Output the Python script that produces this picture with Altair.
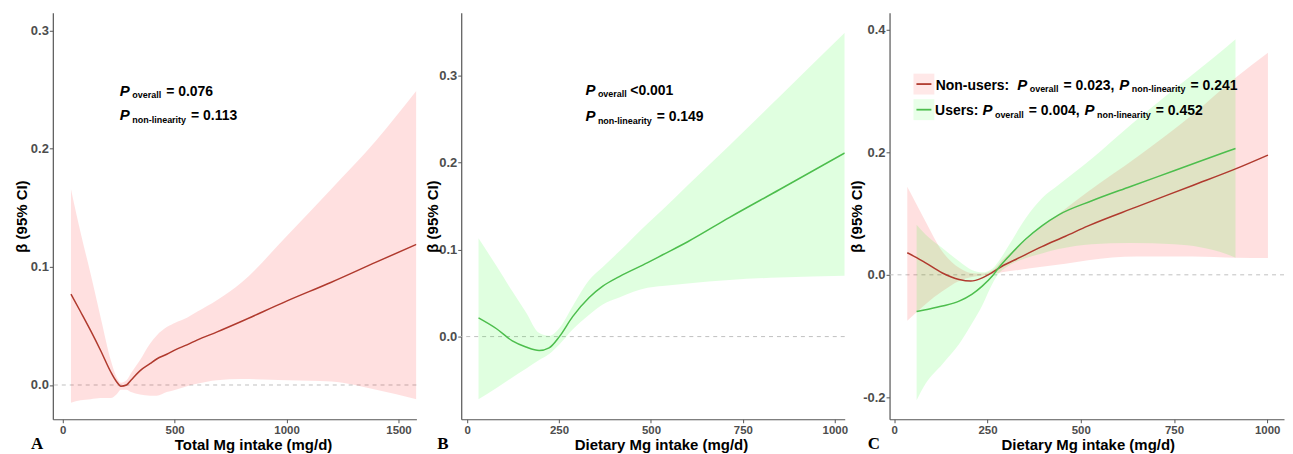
import altair as alt
import pandas as pd

FONT = "Liberation Sans"
SERIF = "Liberation Serif"

# ---------------- data ----------------
# Panel A: Total Mg intake
A_x   = [37, 80, 125, 170, 215, 240, 260, 285, 305, 345, 390, 420, 465, 505, 555, 600, 690, 800, 1000, 1200, 1400, 1580]
A_est = [0.077, 0.062, 0.046, 0.029, 0.011, 0.003, -0.001, 0.000, 0.004, 0.012, 0.018, 0.022, 0.026, 0.030, 0.034, 0.038, 0.045, 0.054, 0.071, 0.087, 0.104, 0.119]
A_lo  = [-0.015, -0.013, -0.012, -0.011, -0.011, -0.008, -0.004, -0.004, -0.006, -0.008, -0.009, -0.009, -0.006, -0.004, -0.001, 0.001, 0.004, 0.005, 0.004, 0.003, -0.004, -0.012]
A_hi  = [0.166, 0.129, 0.094, 0.057, 0.021, 0.007, 0.002, 0.004, 0.010, 0.021, 0.035, 0.042, 0.049, 0.053, 0.057, 0.062, 0.072, 0.087, 0.126, 0.166, 0.207, 0.249]

# Panel B: Dietary Mg intake
B_x   = [31, 80, 123, 160, 196, 223, 251, 287, 332, 369, 414, 491, 532, 600, 714, 850, 1027]
B_est = [0.0215, 0.009, -0.005, -0.012, -0.016, -0.013, 0.000, 0.023, 0.045, 0.058, 0.069, 0.085, 0.094, 0.109, 0.137, 0.169, 0.211]
B_lo  = [-0.072, -0.059, -0.047, -0.037, -0.027, -0.020, -0.009, 0.008, 0.025, 0.037, 0.045, 0.056, 0.058, 0.061, 0.065, 0.068, 0.070]
B_hi  = [0.113, 0.081, 0.052, 0.028, 0.004, 0.001, 0.010, 0.035, 0.065, 0.080, 0.098, 0.130, 0.146, 0.174, 0.220, 0.276, 0.349]

# Panel C: Non-users
CN_x   = [35, 60, 84, 129, 174, 205, 236, 263, 289, 334, 396, 459, 520, 650, 800, 915, 1002]
CN_est = [0.036, 0.028, 0.0195, 0.003, -0.0076, -0.0103, -0.005, 0.004, 0.014, 0.0276, 0.046, 0.063, 0.080, 0.111, 0.146, 0.173, 0.1956]
CN_lo  = [-0.075, -0.061, -0.048, -0.027, -0.010, -0.004, -0.001, 0.001, 0.004, 0.008, 0.013, 0.018, 0.024, 0.030, 0.030, 0.028, 0.0276]
CN_hi  = [0.144, 0.115, 0.087, 0.038, 0.0114, 0.003, 0.002, 0.007, 0.024, 0.047, 0.079, 0.108, 0.136, 0.192, 0.262, 0.322, 0.363]

# Panel C: Users
CU_x   = [60, 84, 129, 174, 208, 236, 263, 280, 307, 352, 396, 441, 530, 632, 750, 890, 915]
CU_est = [-0.060, -0.057, -0.051, -0.043, -0.032, -0.0185, -0.002, 0.0114, 0.030, 0.058, 0.080, 0.098, 0.121, 0.144, 0.170, 0.201, 0.2065]
CU_lo  = [-0.205, -0.178, -0.146, -0.113, -0.080, -0.050, -0.015, 0.002, 0.015, 0.027, 0.035, 0.042, 0.050, 0.052, 0.050, 0.034, 0.028]
CU_hi  = [0.082, 0.066, 0.044, 0.022, 0.008, 0.004, 0.010, 0.022, 0.048, 0.092, 0.125, 0.147, 0.190, 0.244, 0.303, 0.372, 0.385]

# axis ticks
A_xticks = [0, 500, 1000, 1500]
A_yticks = [0.0, 0.1, 0.2, 0.3]
B_xticks = [0, 250, 500, 750, 1000]
B_yticks = [0.0, 0.1, 0.2, 0.3]
C_xticks = [0, 250, 500, 750, 1000]
C_yticks = [-0.2, 0.0, 0.2, 0.4]

# annotation texts
A_txt = [("overall", "= 0.076"), ("non-linearity", "= 0.113")]
B_txt = [("overall", "<0.001"), ("non-linearity", "= 0.149")]
C_groups = ["Non-users:", "Users:"]
C_p = [("= 0.023,", "= 0.241"), ("= 0.004,", "= 0.452")]

# ---------------- styling ----------------
RED_FILL, GREEN_FILL = "#FF0000", "#00FF00"
FILL_OP = 0.12
RED_LINE, GREEN_LINE = "#B03A2E", "#4DBE4D"
H = 408
WA, WB, WC = 365, 385, 396

W = {' ': 278, '%': 889, '(': 333, ')': 333, ',': 278, '-': 333, '.': 278, '/': 278,
     ':': 333, '<': 584, '=': 584, 'N': 722, 'P': 667, 'U': 722,
     'a': 556, 'c': 556, 'e': 556, 'i': 278, 'l': 278, 'n': 611, 'o': 611,
     'r': 389, 's': 556, 't': 333, 'u': 611, 'v': 556, 'y': 556}


def tw(s, size):
    return sum(W.get(c, 556) for c in s) * size / 1000.0


ONE = pd.DataFrame({"k": [0]})


def txt(t, x, y, size, style="normal", font=FONT, color="black"):
    return alt.Chart(ONE).mark_text(
        text=t, font=font, fontSize=size, fontWeight="bold", fontStyle=style,
        align="left", baseline="alphabetic", color=color
    ).encode(x=alt.value(x), y=alt.value(y))


def seq(x0, y0, tokens):
    layers = []
    x = x0
    for kind, t, gap in tokens:
        if kind == "p":
            size, style, dy = 15, "italic", 0
        elif kind == "s":
            size, style, dy = 9, "normal", 2.5
        else:
            size, style, dy = 14, "normal", 0
        layers.append(txt(t, x, y0 + dy, size, style))
        x += tw(t, size) + gap
    return layers


def ylab_expr():
    return "datum.value < 0 ? '-' + format(-datum.value, '.1f') : format(datum.value, '.1f')"


def encodings(xdom, ydom, xticks, yticks, xtitle, xtitle_x, ytitle_x):
    x = alt.X("x:Q", scale=alt.Scale(domain=xdom, nice=False, zero=False),
              axis=alt.Axis(values=xticks, title=xtitle, titleX=xtitle_x, titleY=30,
                            titleBaseline="alphabetic", tickSize=3.5, labelPadding=1.5,
                            labelFontSize=11.5, format="d"))
    y = alt.Y("lo:Q", scale=alt.Scale(domain=ydom, nice=False, zero=False),
              axis=alt.Axis(values=yticks, title="β (95% CI)", titleX=ytitle_x, titleY=H / 2,
                            titleAngle=270, titleBaseline="alphabetic", titleAlign="center",
                            tickSize=3.5, labelPadding=1, labelFontSize=13,
                            labelExpr=ylab_expr()))
    return x, y


def band(df, x, y, fill):
    return alt.Chart(df).mark_area(color=fill, opacity=FILL_OP, interpolate="monotone", clip=True).encode(
        x=x, y=y, y2="hi:Q")


def curve(df, color):
    return alt.Chart(df).mark_line(color=color, strokeWidth=1.5, interpolate="monotone", clip=True).encode(
        x="x:Q", y="est:Q")


def zero_rule():
    return alt.Chart(ONE).mark_rule(color="#C0C0C0", strokeDash=[4, 4], strokeWidth=1).encode(y=alt.datum(0))


# ---------------- Panel A ----------------
dfA = pd.DataFrame({"x": A_x, "est": A_est, "lo": A_lo, "hi": A_hi})
xA, yA = encodings([-44, 1580], [-0.029, 0.315], A_xticks, A_yticks,
                   "Total Mg intake (mg/d)", 201, -26.3)
layersA = [zero_rule(), band(dfA, xA, yA, RED_FILL), curve(dfA, RED_LINE)]
layersA += seq(67.3, 83, [("p", "P", 2.5), ("s", A_txt[0][0], 5), ("m", A_txt[0][1], 0)])
layersA += seq(67.3, 108, [("p", "P", 2.5), ("s", A_txt[1][0], 5), ("m", A_txt[1][1], 0)])
layersA.append(txt("A", -22, 438, 17, font=SERIF))
chartA = alt.layer(*layersA).properties(width=WA, height=H)

# ---------------- Panel B ----------------
dfB = pd.DataFrame({"x": B_x, "est": B_est, "lo": B_lo, "hi": B_hi})
xB, yB = encodings([-16, 1027], [-0.095, 0.372], B_xticks, B_yticks,
                   "Dietary Mg intake (mg/d)", 200.5, -23.5)
layersB = [zero_rule(), band(dfB, xB, yB, GREEN_FILL), curve(dfB, GREEN_LINE)]
layersB += seq(124.7, 82, [("p", "P", 2.5), ("s", B_txt[0][0], 3.5), ("m", B_txt[0][1], 0)])
layersB += seq(124.7, 108.7, [("p", "P", 2.5), ("s", B_txt[1][0], 5), ("m", B_txt[1][1], 0)])
layersB.append(txt("B", -24, 438, 17, font=SERIF))
chartB = alt.layer(*layersB).properties(width=WB, height=H)

# ---------------- Panel C ----------------
dfN = pd.DataFrame({"x": CN_x, "est": CN_est, "lo": CN_lo, "hi": CN_hi})
dfU = pd.DataFrame({"x": CU_x, "est": CU_est, "lo": CU_lo, "hi": CU_hi})
xC, yC = encodings([-12.5, 1045], [-0.236, 0.428], C_xticks, C_yticks,
                   "Dietary Mg intake (mg/d)", 199, -28)
layersC = [zero_rule(), band(dfN, xC, yC, RED_FILL), band(dfU, xC, yC, GREEN_FILL),
           curve(dfN, RED_LINE), curve(dfU, GREEN_LINE)]
# legend keys
for i, (fill, line) in enumerate([(RED_FILL, RED_LINE), (GREEN_FILL, GREEN_LINE)]):
    y0 = 61 + i * 25.7
    layersC.append(alt.Chart(ONE).mark_rect(color=fill, opacity=0.09).encode(
        x=alt.value(24), x2=alt.value(45), y=alt.value(y0), y2=alt.value(y0 + 21)))
    layersC.append(alt.Chart(ONE).mark_rule(color=line, strokeWidth=1.8).encode(
        x=alt.value(27), x2=alt.value(42), y=alt.value(y0 + 10.5)))
for i, (grp, lead_gap, x0, y0) in enumerate([(C_groups[0], 8, 46.3, 77.3), (C_groups[1], 4, 45.7, 103)]):
    layersC += seq(x0, y0, [("m", grp, lead_gap), ("p", "P", 2.5), ("s", "overall", 5),
                            ("m", C_p[i][0], 5), ("p", "P", 2.5), ("s", "non-linearity", 5),
                            ("m", C_p[i][1], 0)])
layersC.append(txt("C", -22, 438, 17, font=SERIF))
chartC = alt.layer(*layersC).properties(width=WC, height=H)

chart = alt.hconcat(chartA, chartB, chartC, spacing=45, bounds="flush").properties(
    padding={"left": 6, "top": 4, "right": 0, "bottom": 0}
).configure_axis(
    grid=False, domainColor="#555555", tickColor="#555555", domainWidth=1.2,
    labelFont=FONT, labelFontWeight="bold", labelColor="#4D4D4D",
    titleFont=FONT, titleFontSize=15, titleFontWeight="bold", titleColor="black"
).configure_view(stroke=None)

chart.save("out.html", embed_options={"renderer": "svg", "actions": False})
